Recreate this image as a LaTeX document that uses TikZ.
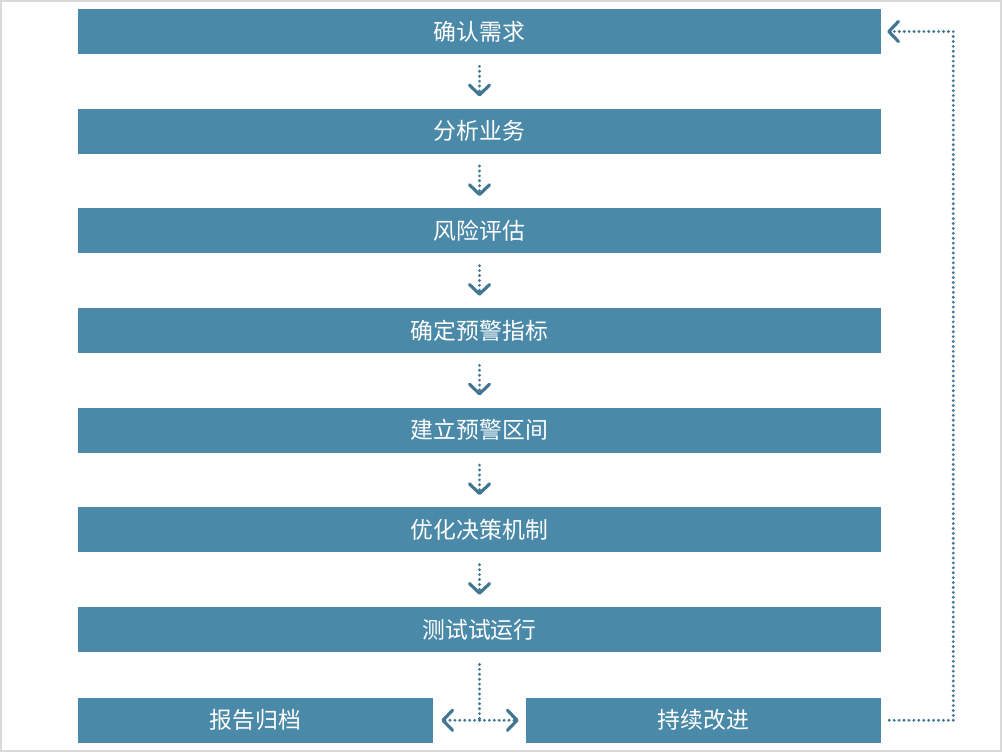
\documentclass[tikz,border=0pt]{standalone}
\usepackage{fontspec}
\newfontfamily\cjk{Noto Sans CJK SC}
\usetikzlibrary{arrows.meta, positioning}
\definecolor{boxblue}{RGB}{74,137,168}
\definecolor{lineblue}{RGB}{64,118,146}

\begin{document}
\begin{tikzpicture}[x=0.02cm, y=-0.02cm,
          node distance=1.08cm,
          box/.style={rectangle, fill=boxblue, text=white,
                      minimum width=16.06cm, minimum height=0.9cm,
                      inner sep=0pt, font=\cjk\fontsize{13}{15}\selectfont},
          dots/.style={lineblue, line width=1.8pt, line cap=round,
                      dash pattern=on 0pt off 2.8pt},
          arr/.style={dots, -{Straight Barb[length=5.5pt, width=11.5pt, line width=1.8pt, round]},
                      shorten <=0.24cm, shorten >=0.24cm}]
          \useasboundingbox (0,0) rectangle (1002,752);
          \draw[black!15, line width=1.2pt] (1,1) rectangle (1001,751);
          \node[box] (need) at (479.5,31.5) {确认需求};
          \node[box, below=of need]   (biz)    {分析业务};
          \node[box, below=of biz]    (risk)   {风险评估};
          \node[box, below=of risk]   (index)  {确定预警指标};
          \node[box, below=of index]  (range)  {建立预警区间};
          \node[box, below=of range]  (decide) {优化决策机制};
          \node[box, below=of decide] (trial)  {测试试运行};
          \node[box, minimum width=7.1cm, below right=0.9cm and 0cm of trial.south west] (report)  {报告归档};
          \node[box, minimum width=7.1cm, below left=0.9cm and 0cm of trial.south east]  (improve) {持续改进};
          \foreach \a/\b in {need/biz, biz/risk, risk/index, index/range, range/decide, decide/trial}
            \draw[arr] (\a) -- (\b);
          \coordinate (split) at (trial.south |- report.east);
          \draw[dots, shorten <=0.24cm] (trial) -- (split);
          \draw[arr, shorten <=0pt, shorten >=0.16cm] (split) -- (report);
          \draw[arr, shorten <=0pt, shorten >=0.14cm] (split) -- (improve);
          \draw[arr, shorten <=0.16cm, shorten >=0.12cm] (improve.east) -- ++(72,0) |- (need.east);
        \end{tikzpicture}
\end{document}
